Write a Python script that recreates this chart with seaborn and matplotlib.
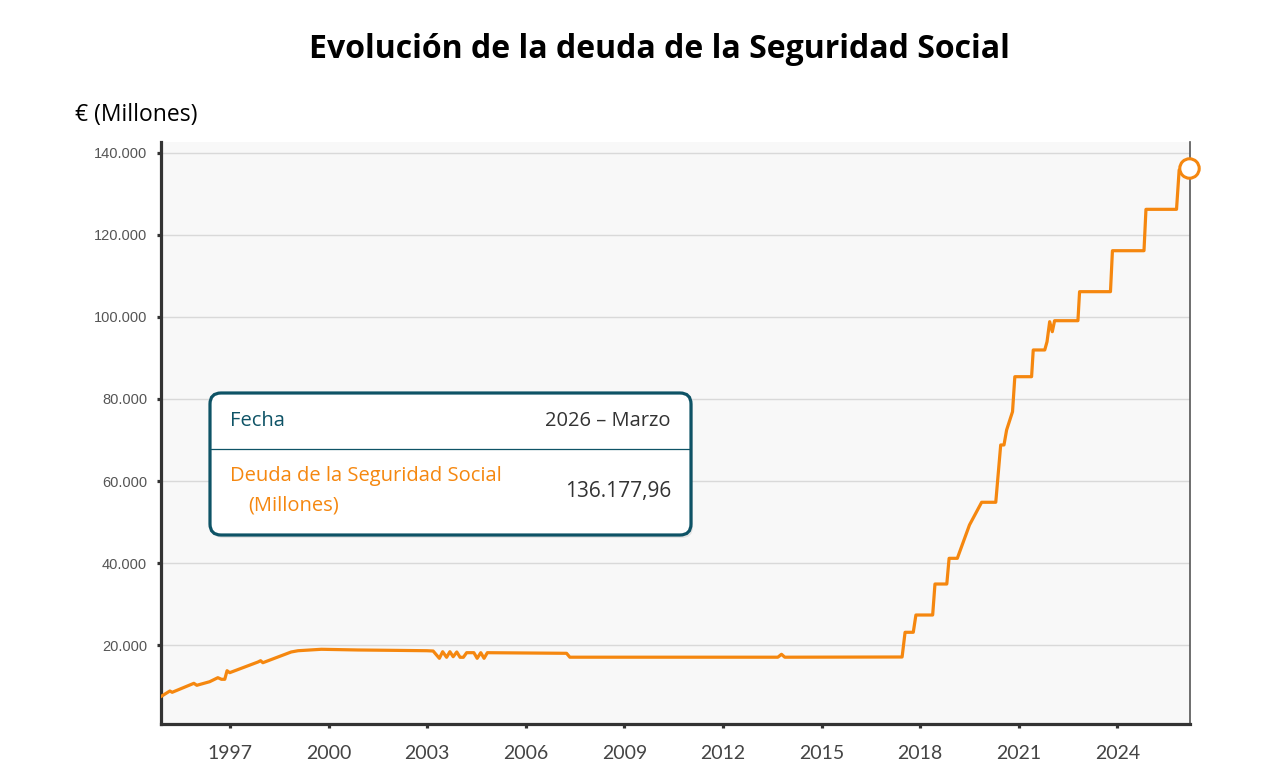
import matplotlib
matplotlib.use("Agg")
import matplotlib.pyplot as plt
from matplotlib.patches import FancyBboxPatch
from matplotlib.transforms import IdentityTransform
from matplotlib.ticker import FuncFormatter
import seaborn as sns

# deuda de la Seguridad Social, millones de euros (fecha en años decimales)
years = [1994.89, 1995.17, 1995.24, 1995.90, 1995.99, 1996.38, 1996.63, 1996.74,
         1996.84, 1996.91, 1996.99, 1997.85, 1997.93, 1998.00, 1998.86, 1999.07,
         1999.78, 2000.89, 2001.87, 2002.99, 2003.18, 2003.37, 2003.47, 2003.59,
         2003.69, 2003.79, 2003.90, 2004.00, 2004.10, 2004.20, 2004.42, 2004.52,
         2004.63, 2004.73, 2004.83, 2007.24, 2007.34, 2013.67, 2013.78, 2013.88,
         2017.45, 2017.54, 2017.79, 2017.87, 2018.38, 2018.45, 2018.81, 2018.88,
         2019.13, 2019.50, 2019.87, 2020.30, 2020.45, 2020.55, 2020.63, 2020.81,
         2020.88, 2021.39, 2021.44, 2021.79, 2021.86, 2021.94, 2022.02, 2022.09,
         2022.80, 2022.85, 2023.79, 2023.85, 2024.81, 2024.87, 2025.80, 2025.88,
         2026.17]
deuda = [7480, 8870, 8550, 10740, 10260, 11130, 12110, 11720,
         11720, 13810, 13330, 15930, 16250, 15760, 18370, 18680,
         19030, 18860, 18780, 18680, 18610, 16830, 18440, 17080,
         18440, 17220, 18370, 17080, 17080, 18200, 18200, 16830,
         18200, 16830, 18200, 18050, 17100, 17100, 17810, 17100,
         17150, 23170, 23170, 27380, 27380, 34930, 34930, 41190,
         41190, 49310, 54840, 54840, 68800, 68800, 72450, 76910,
         85430, 85430, 91940, 91940, 93960, 98830, 96390, 99070,
         99070, 106140, 106140, 116120, 116120, 126200, 126200, 135800,
         136177.96]

year_ticks = [1997, 2000, 2003, 2006, 2009, 2012, 2015, 2018, 2021, 2024]
deuda_ticks = [20000, 40000, 60000, 80000, 100000, 120000, 140000]

titulo = "Evolución de la deuda de la Seguridad Social"
unidad = "€ (Millones)"
tooltip_fecha = "2026 – Marzo"
tooltip_valor = "136.177,96"

naranja = "#f5870f"
azul = "#0e5366"

sns.set_style("white")
plt.rcParams["font.family"] = ["Open Sans", "DejaVu Sans"]

fig = plt.figure(figsize=(12.77, 7.70), dpi=100)
fig.patch.set_facecolor("white")
ax = fig.add_axes([161 / 1277, 46 / 770, (1190 - 161) / 1277, (724 - 142) / 770])
ax.set_facecolor("#f8f8f8")

sns.lineplot(x=years, y=deuda, ax=ax, color=naranja, linewidth=2.3,
             sort=False, estimator=None, zorder=3)
ax.plot(years[-1], deuda[-1], marker="o", markersize=14, markerfacecolor="white",
        markeredgecolor=naranja, markeredgewidth=2.2, zorder=5, clip_on=False)

ax.set_xlim(1994.90, 2026.21)
ax.set_ylim(830, 142600)
ax.set_xticks(year_ticks)
ax.set_yticks(deuda_ticks)
ax.yaxis.set_major_formatter(FuncFormatter(lambda v, p: f"{int(v):,}".replace(",", ".")))
ax.grid(axis="y", color="#d9d9d9", linewidth=1)
ax.set_axisbelow(True)

for s in ["left", "bottom"]:
    ax.spines[s].set_color("#333333")
    ax.spines[s].set_linewidth(2.3)
ax.spines["right"].set_color("#555555")
ax.spines["right"].set_linewidth(1.2)
ax.spines["top"].set_visible(False)

ax.tick_params(axis="y", which="major", left=True, length=3, width=2.3, color="#333333",
               labelsize=10.5, labelcolor="#555555", pad=7)
for lab in ax.get_yticklabels():
    lab.set_fontfamily(["Liberation Sans", "DejaVu Sans"])
ax.tick_params(axis="x", which="major", bottom=True, length=3, width=2.3, color="#333333",
               labelsize=14, labelcolor="#444444", pad=12)
for lab in ax.get_xticklabels():
    lab.set_fontfamily(["Lato", "DejaVu Sans"])

fig.text(659 / 1277, 1 - 50 / 770, titulo, ha="center", va="center",
         fontsize=23, fontweight="bold", color="black")
fig.text(75 / 1277, 1 - 115 / 770, unidad, ha="left", va="center",
         fontsize=16.5, color="black")

# tooltip
H = 770
def px(x, y):
    return x, H - y

sombra = FancyBboxPatch(px(212, 538), 481, 142, boxstyle="round,pad=0,rounding_size=11",
                        transform=IdentityTransform(), facecolor="#000000", alpha=0.08,
                        edgecolor="none", zorder=9)
fig.add_artist(sombra)
caja = FancyBboxPatch(px(210, 535), 481, 142, boxstyle="round,pad=0,rounding_size=11",
                      transform=IdentityTransform(), facecolor="white",
                      edgecolor=azul, linewidth=2.3, zorder=10)
fig.add_artist(caja)
fig.add_artist(plt.Line2D([211, 690], [H - 449, H - 449], transform=IdentityTransform(),
                          color=azul, linewidth=0.9, zorder=11))

fs = 14.5
fig.text(230 / 1277, 1 - 421 / 770, "Fecha", ha="left", va="center",
         fontsize=fs, color=azul, zorder=12)
fig.text(671 / 1277, 1 - 421 / 770, tooltip_fecha, ha="right", va="center",
         fontsize=fs, color="#333333", zorder=12)
fig.text(230 / 1277, 1 - 476 / 770, "Deuda de la Seguridad Social", ha="left", va="center",
         fontsize=fs, color=naranja, zorder=12)
fig.text(248 / 1277, 1 - 506 / 770, "(Millones)", ha="left", va="center",
         fontsize=fs, color=naranja, zorder=12)
fig.text(671 / 1277, 1 - 491 / 770, tooltip_valor, ha="right", va="center",
         fontsize=15, color="#333333", zorder=12)

fig.savefig("out.png", dpi=100, facecolor="white")
